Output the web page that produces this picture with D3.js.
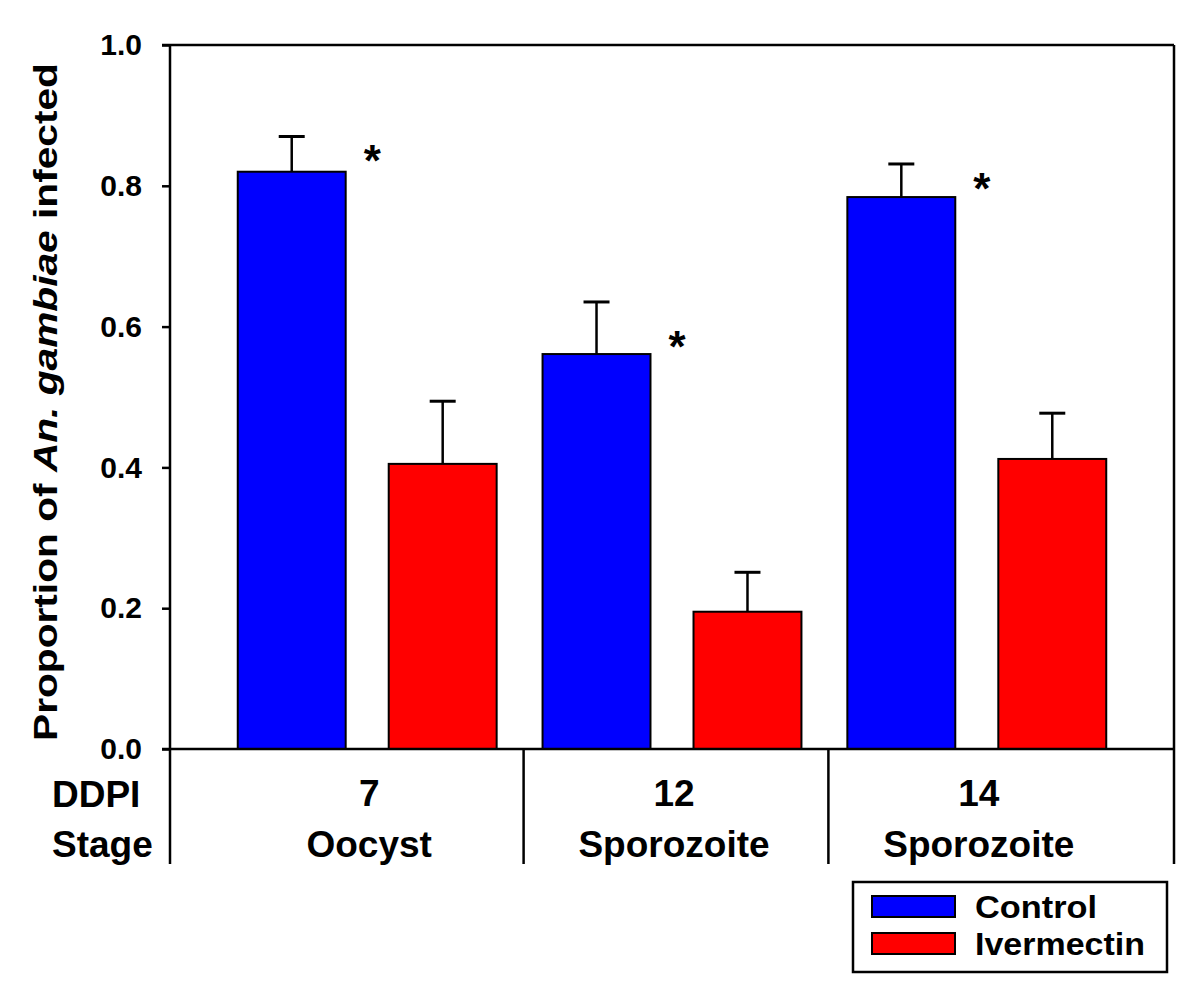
<!DOCTYPE html>
<html>
<head>
<meta charset="utf-8">
<script src="https://cdn.jsdelivr.net/npm/d3@7"></script>
<style>
  html, body { margin: 0; padding: 0; background: #ffffff; }
  svg { display: block; }
  text { font-family: Arial, "Liberation Sans", sans-serif; }
</style>
</head>
<body>
<svg id="chart" width="1200" height="995"></svg>
<script>
// ---- data ----
const categories = ["7", "12", "14"];
const stages = ["Oocyst", "Sporozoite", "Sporozoite"];
const series = ["Control", "Ivermectin"];
const controlValues = [0.82, 0.561, 0.784];
const controlErrors = [0.05, 0.074, 0.047];
const ivermectinValues = [0.405, 0.195, 0.412];
const ivermectinErrors = [0.089, 0.056, 0.065];
const starLevels = [0.85, 0.585, 0.81];
const yTicks = [0.0, 0.2, 0.4, 0.6, 0.8, 1.0];
const colors = ["#0000ff", "#ff0000"];

const valuesBySeries = [controlValues, ivermectinValues];
const errorsBySeries = [controlErrors, ivermectinErrors];

const svg = d3.select("#chart");
const mLeft = 170, mRight = 1174, mTop = 45, mBottom = 749, lowerBottom = 864;

const y = d3.scaleLinear().domain([0, 1]).range([mBottom, mTop]);
const x0 = d3.scaleBand().domain(categories).range([mLeft, mRight]).paddingInner(0).paddingOuter(0.147);
const x1 = d3.scaleBand().domain(series).range([0, x0.bandwidth()]).paddingInner(0.285).paddingOuter(0.152);

// bars
const barData = [];
categories.forEach((c, i) => {
  series.forEach((s, j) => {
    barData.push({cat: c, ser: s, v: valuesBySeries[j][i], e: errorsBySeries[j][i], color: colors[j]});
  });
});

const g = svg.append("g");

g.selectAll("line.err").data(barData).enter().append("line")
  .attr("x1", d => x0(d.cat) + x1(d.ser) + x1.bandwidth() / 2)
  .attr("x2", d => x0(d.cat) + x1(d.ser) + x1.bandwidth() / 2)
  .attr("y1", d => y(d.v))
  .attr("y2", d => y(d.v + d.e))
  .attr("stroke", "#000").attr("stroke-width", 2.5);
g.selectAll("line.cap").data(barData).enter().append("line")
  .attr("x1", d => x0(d.cat) + x1(d.ser) + x1.bandwidth() / 2 - 13)
  .attr("x2", d => x0(d.cat) + x1(d.ser) + x1.bandwidth() / 2 + 13)
  .attr("y1", d => y(d.v + d.e))
  .attr("y2", d => y(d.v + d.e))
  .attr("stroke", "#000").attr("stroke-width", 3);

g.selectAll("rect.bar").data(barData).enter().append("rect")
  .attr("x", d => x0(d.cat) + x1(d.ser))
  .attr("y", d => y(d.v))
  .attr("width", x1.bandwidth())
  .attr("height", d => y(0) - y(d.v))
  .attr("fill", d => d.color)
  .attr("stroke", "#000").attr("stroke-width", 2);

// asterisks
g.selectAll("text.star").data(categories).enter().append("text")
  .attr("x", (c) => x0(c) + x0.bandwidth() / 2 + 5)
  .attr("y", (c, i) => y(starLevels[i]) + 25)
  .attr("text-anchor", "middle")
  .attr("font-size", 44).attr("font-weight", "bold")
  .text("*");

// y axis
const yAxis = d3.axisLeft(y).tickValues(yTicks).tickFormat(d3.format(".1f")).tickSize(8).tickPadding(20);
const ya = svg.append("g").attr("transform", `translate(${mLeft},0)`).call(yAxis);
ya.select(".domain").remove();
ya.selectAll(".tick line").attr("stroke", "#000").attr("stroke-width", 2.5);
ya.selectAll(".tick text").attr("font-size", 30).attr("font-weight", "bold")
  .attr("fill", "#000").attr("font-family", "Arial, 'Liberation Sans', sans-serif");

// frame lines
const frame = svg.append("g").attr("stroke", "#000").attr("stroke-width", 2.5);
frame.append("line").attr("x1", mLeft - 8).attr("x2", mRight).attr("y1", mTop).attr("y2", mTop);
frame.append("line").attr("x1", mLeft - 8).attr("x2", mRight).attr("y1", mBottom).attr("y2", mBottom);
frame.append("line").attr("x1", mLeft).attr("x2", mLeft).attr("y1", mTop).attr("y2", lowerBottom);
frame.append("line").attr("x1", mRight).attr("x2", mRight).attr("y1", mTop).attr("y2", lowerBottom);
categories.slice(0, -1).forEach(c => {
  const sx = x0(c) + x0.bandwidth() + 4;
  frame.append("line").attr("x1", sx).attr("x2", sx).attr("y1", mBottom).attr("y2", lowerBottom);
});

// lower labels
const lab = svg.append("g").attr("font-size", 37).attr("font-weight", "bold").attr("fill", "#000");
lab.append("text").attr("x", 52).attr("y", 807).text("DDPI");
lab.append("text").attr("x", 52).attr("y", 857).text("Stage");
lab.selectAll("text.cat").data(categories).enter().append("text")
  .attr("x", c => x0(c) + x0.bandwidth() / 2 + 2)
  .attr("y", 806).attr("text-anchor", "middle").text(c => c);
lab.selectAll("text.stage").data(stages).enter().append("text")
  .attr("x", (s, i) => x0(categories[i]) + x0.bandwidth() / 2 + 2)
  .attr("y", 857).attr("text-anchor", "middle").text(s => s);

// y label
const yl = svg.append("text")
  .attr("transform", "translate(57,402) rotate(-90)")
  .attr("text-anchor", "middle")
  .attr("font-size", 33).attr("font-weight", "bold").attr("fill", "#000")
  .attr("textLength", 678).attr("lengthAdjust", "spacingAndGlyphs");
yl.append("tspan").text("Proportion of ");
yl.append("tspan").attr("font-style", "italic").text("An. gambiae");
yl.append("tspan").text(" infected");

// legend
const lg = svg.append("g");
lg.append("rect").attr("x", 853).attr("y", 882).attr("width", 314).attr("height", 90)
  .attr("fill", "#fff").attr("stroke", "#000").attr("stroke-width", 2.5);
series.forEach((s, j) => {
  lg.append("rect").attr("x", 872).attr("y", 896 + j * 37).attr("width", 83).attr("height", 21)
    .attr("fill", colors[j]).attr("stroke", "#000").attr("stroke-width", 2);
  lg.append("text").attr("x", 975).attr("y", 918 + j * 37)
    .attr("font-size", 32).attr("font-weight", "bold").attr("fill", "#000")
    .attr("textLength", j === 0 ? 122 : 170).attr("lengthAdjust", "spacingAndGlyphs").text(s);
});
</script>
</body>
</html>
